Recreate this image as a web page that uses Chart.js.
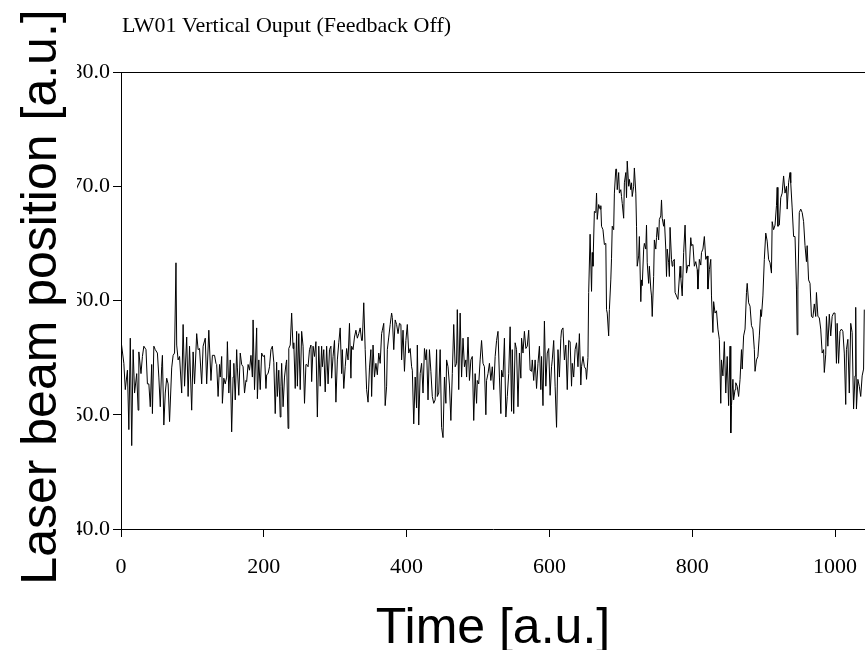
<!DOCTYPE html>
<html>
<head>
<meta charset="utf-8">
<script src="https://cdn.jsdelivr.net/npm/chart.js@4.4.1/dist/chart.umd.min.js"></script>
<style>
    html, body { margin: 0; padding: 0; background: #fff; overflow: hidden; }
    #wrap { width: 865px; height: 650px; position: relative; }
</style>
</head>
<body>
<div id="wrap"><canvas id="chart"></canvas></div>
<script>
const chartTitle = "LW01 Vertical Ouput (Feedback Off)";
const xAxisTitle = "Time [a.u.]";
const yAxisTitle = "Laser beam position [a.u.]";

const xTicks = [0, 200, 400, 600, 800, 1000];
const yTicks = [40, 50, 60, 70, 80];

// time samples
const timeSteps = [
    0, 4, 6, 9, 11, 13, 15, 17, 19, 22, 24, 25, 28, 30, 32, 35, 37, 39, 41, 43,
    44, 46, 48, 51, 53, 55, 57, 58, 60, 62, 64, 66, 68, 71, 73, 75, 77, 78, 80, 82,
    85, 87, 89, 92, 94, 96, 99, 101, 103, 106, 108, 110, 113, 115, 118, 120, 123, 126, 128,
    131, 133, 134, 136, 138, 139, 141, 142, 144, 146, 148, 149, 151, 153, 155, 157, 158, 160, 162, 163,
    165, 167, 169, 171, 173, 175, 176, 178, 180, 182, 184, 185, 187, 190, 191, 193, 195, 197, 199, 201,
    203, 204, 206, 208, 210, 212, 214, 216, 218, 219, 221, 223, 224, 225, 227, 229, 231, 232, 234, 235,
    237, 239, 241, 242, 244, 246, 247, 249, 251, 253, 255, 257, 259,
    260, 262, 264, 266, 267, 269, 271, 273, 275, 277, 279, 281, 282, 284, 286, 288, 290, 292, 294, 295,
    297, 299, 301, 303, 305, 307, 309, 310, 312, 314, 316, 318, 320, 322, 323, 325, 327, 329, 331, 333,
    335, 337, 338, 340, 342, 344, 346, 348, 350, 351, 353, 355, 357, 359, 361, 363, 365, 366, 368, 370,
    372, 373, 375, 377, 379, 380, 382, 384, 386, 388, 390,
    392, 393, 395, 397, 399, 401, 403, 405, 407, 408, 410, 412, 414, 415, 417, 419, 421, 423, 425, 427,
    428, 430, 432, 434, 436, 438, 440, 442, 443, 445, 447, 449, 451, 453, 455, 456, 458, 460, 462, 464,
    466, 468, 470, 471, 473, 475, 477, 479, 481, 483, 484, 486, 488, 490, 492, 494, 496, 498, 499, 501,
    503, 505, 507, 509, 511, 512, 514, 516, 518, 520,
    522, 524, 526, 528, 530, 532, 533, 535, 537, 539, 541, 543, 545, 547, 548, 550, 552, 554, 556, 558,
    560, 561, 563, 565, 567, 569, 571, 573, 575, 576, 578, 580, 582, 584, 586, 588, 589, 591, 593, 595,
    597, 599, 601, 603, 604, 606, 608, 610, 612, 614, 616, 617, 619, 621, 623, 625, 627, 629, 631, 632,
    634, 636, 638, 640, 642, 644, 645, 647, 649,
    651, 652, 654, 655, 657, 659, 660, 661, 663, 665, 666, 667, 669, 671, 672, 673, 675, 677, 679, 680,
    681, 683, 684, 686, 687, 688, 690, 691, 693, 694, 695, 697, 698, 700, 701, 702, 704, 705, 707, 708,
    709, 711, 712, 714, 715, 716, 718, 719, 721, 722, 723, 725, 726, 728, 729, 730, 732, 733, 735, 736,
    737, 739, 740, 742, 743, 744, 746, 747, 749, 750, 751, 753, 754, 756, 757, 758, 760, 761, 763, 764,
    765, 767, 768, 769, 771, 772, 773, 775, 776, 778, 780,
    783, 784, 786, 788, 790, 792, 794, 796, 798, 799, 801, 803, 805, 807, 808, 810, 812, 813, 815, 817,
    819, 821, 822, 824, 826, 827, 829, 830, 832, 834, 836, 838, 840, 841, 843, 845, 847, 849, 851, 853,
    854, 855, 857, 858, 860, 861, 863, 865, 867, 869, 870, 872, 874, 876, 877, 879, 881, 883, 885, 887,
    888, 890, 892, 894, 896, 897, 899, 901, 903, 905, 907, 909, 911,
    912, 914, 916, 918, 919, 920, 922, 924, 926, 928, 930, 932, 933, 935, 937, 938, 940, 942, 944, 946,
    947, 948, 950, 952, 954, 956, 958, 960, 961, 963, 965, 967, 969, 971, 973, 974, 976, 978, 980, 982,
    984, 985, 987, 988, 990, 992, 994, 996, 998, 1000, 1002, 1003, 1005, 1007, 1009, 1011, 1013, 1015, 1016, 1018,
    1020, 1022, 1024, 1026, 1028, 1029, 1030, 1032, 1034, 1036, 1038, 1040, 1041
];

const beamPosition = [
    56.5, 54.5, 52.2, 53.9, 48.7, 56.7, 47.3, 55.7, 51.9, 53.6, 50.4, 55.5, 53.6, 55.1, 56.0, 55.7, 52.7, 52.7, 50.7, 54.4,
    50.1, 56.0, 55.7, 55.4, 53.3, 50.7, 54.2, 55.2, 49.1, 51.9, 53.2, 52.7, 49.4, 54.1, 55.2, 55.4, 63.3, 56.1, 54.8, 55.1,
    51.9, 57.9, 52.5, 56.8, 51.6, 56.0, 50.4, 55.5, 52.7, 57.1, 55.7, 55.8, 52.7, 56.0, 56.7, 52.7, 57.4, 53.0, 55.2,
    55.2, 54.5, 54.4, 51.6, 54.4, 53.3, 55.1, 51.0, 53.2, 52.7, 53.3, 56.4, 51.9, 54.8, 48.5, 53.3, 54.5, 51.3, 55.7, 54.1,
    51.7, 55.4, 54.4, 54.2, 51.9, 53.0, 52.9, 54.4, 53.9, 55.2, 53.3, 58.3, 52.2, 57.6, 51.4, 54.8, 52.2, 55.4, 55.1, 55.2,
    52.3, 53.5, 53.6, 54.2, 55.7, 56.0, 54.6, 50.1, 54.6, 51.6, 53.9, 49.8, 52.5, 54.5, 50.7, 53.3, 54.4, 54.8, 48.8, 55.8,
    56.1, 58.9, 55.8, 56.3, 52.3, 57.3, 52.5, 57.1, 52.2, 57.3, 56.0, 51.0, 54.4,
    54.4, 54.2, 55.7, 56.1, 52.9, 56.0, 55.1, 56.4, 49.8, 56.0, 52.5, 56.0, 54.2, 55.7, 52.0, 56.0, 52.7, 55.7, 56.0, 53.2,
    55.1, 56.5, 51.1, 54.8, 56.3, 57.6, 53.6, 55.7, 52.3, 54.2, 55.8, 54.8, 58.0, 53.2, 56.0, 55.7, 56.8, 57.4, 56.7, 57.1,
    57.6, 56.5, 56.5, 59.8, 55.7, 52.2, 51.1, 54.1, 55.7, 51.6, 56.1, 53.3, 54.5, 53.5, 55.4, 54.5, 57.1, 57.4, 58.0, 50.8,
    52.5, 55.7, 56.8, 57.9, 58.9, 58.5, 55.7, 58.3, 57.9, 57.1, 58.0,
    57.9, 54.8, 57.4, 53.8, 56.5, 57.9, 55.4, 55.8, 54.2, 53.9, 49.2, 53.3, 50.6, 56.1, 49.1, 53.6, 54.5, 51.9, 55.8, 54.8,
    55.7, 51.3, 55.7, 53.8, 51.6, 51.0, 51.3, 55.7, 51.6, 51.9, 55.7, 48.9, 48.0, 53.3, 51.0, 54.8, 54.2, 52.6, 49.5, 53.6,
    57.9, 54.2, 54.5, 59.2, 52.2, 58.9, 53.3, 56.7, 54.2, 54.8, 53.3, 56.8, 53.0, 54.8, 55.1, 49.5, 53.6, 51.0, 53.0, 52.7,
    54.8, 56.5, 54.5, 54.2, 50.0, 53.0, 53.6, 54.5, 53.0, 54.2,
    52.2, 55.1, 56.5, 57.3, 53.3, 50.1, 53.9, 53.3, 56.7, 49.8, 51.6, 53.6, 57.7, 50.3, 55.7, 50.1, 56.3, 55.7, 50.7, 55.4,
    53.2, 56.7, 55.4, 57.3, 55.8, 56.0, 57.4, 53.9, 53.8, 54.8, 53.0, 54.8, 52.3, 54.5, 56.0, 52.2, 55.1, 50.8, 58.2, 52.5,
    55.4, 55.8, 51.7, 54.2, 54.8, 56.5, 52.5, 48.9, 55.7, 53.3, 56.7, 57.4, 57.6, 54.8, 56.1, 52.2, 56.5, 56.4, 52.5, 54.5,
    53.3, 55.7, 56.3, 54.2, 57.1, 52.6, 54.2, 55.1, 54.2,
    54.0, 53.1, 55.0, 60.7, 65.8, 60.8, 64.2, 63.0, 67.8, 67.7, 69.4, 67.1, 68.4, 68.0, 68.3, 66.5, 66.2, 64.9, 65.0, 59.2,
    58.9, 56.9, 59.2, 61.8, 63.7, 66.5, 66.2, 69.4, 71.5, 71.5, 69.7, 71.2, 69.4, 69.7, 69.1, 68.5, 67.2, 70.3, 71.2, 69.0,
    72.2, 70.0, 70.6, 69.7, 70.3, 69.1, 70.0, 71.6, 69.4, 66.5, 63.0, 63.9, 65.6, 59.9, 61.8, 61.3, 64.5, 65.0, 64.5, 66.6,
    63.3, 61.5, 63.0, 61.0, 60.4, 58.6, 62.1, 65.3, 64.5, 65.5, 66.4, 65.3, 67.1, 67.4, 68.8, 67.2, 66.5, 67.1, 64.5, 62.1,
    64.5, 63.3, 62.1, 66.4, 63.6, 63.0, 63.4, 63.6, 60.7, 60.4, 60.1,
    63.0, 62.0, 60.4, 64.2, 66.6, 62.4, 63.1, 63.0, 65.5, 64.8, 64.9, 63.0, 63.4, 62.7, 61.0, 63.6, 63.1, 64.2, 64.5, 65.6,
    63.6, 63.9, 61.0, 62.7, 63.6, 60.4, 57.2, 59.9, 58.9, 59.1, 57.5, 56.6, 51.0, 54.8, 53.4, 56.4, 51.9, 55.1, 50.8, 56.0,
    48.4, 50.8, 53.1, 51.3, 52.2, 52.8, 52.5, 51.6, 53.1, 55.7, 54.0, 56.9, 57.5, 60.7, 61.5, 59.8, 59.5, 57.8, 57.5, 55.7,
    53.8, 54.8, 55.1, 56.9, 59.2, 58.6, 60.4, 63.6, 65.9, 65.2, 63.6, 63.3, 62.4,
    66.9, 66.2, 66.6, 68.3, 69.9, 66.5, 66.6, 69.0, 69.4, 70.9, 69.4, 70.0, 68.0, 70.3, 71.2, 70.3, 68.1, 65.6, 65.6, 61.0,
    57.0, 61.0, 67.7, 68.0, 67.7, 66.9, 64.8, 63.4, 64.8, 61.8, 61.5, 58.6, 58.5, 59.7, 58.6, 60.7, 58.6, 58.5, 57.5, 55.4,
    55.7, 53.7, 55.3, 58.6, 56.0, 58.8, 56.9, 58.6, 58.9, 58.9, 54.5, 58.0, 54.5, 57.3, 57.5, 57.3, 55.4, 50.9, 55.7, 56.6,
    51.9, 58.0, 57.2, 50.5, 53.4, 59.4, 50.5, 53.1, 52.5, 51.6, 53.4, 54.0, 59.2
];

const serif = "'Liberation Serif', 'Times New Roman', serif";
const sans = "'Liberation Sans', Arial, sans-serif";

const points = timeSteps.map((t, i) => ({ x: t, y: beamPosition[i] }));

// top frame line, titles and the white box behind the big y title
const decorations = {
    id: "decorations",
    afterDraw(chart) {
        const ctx = chart.ctx;
        const area = chart.chartArea;

        ctx.save();
        ctx.strokeStyle = "#000";
        ctx.lineWidth = 1;
        ctx.beginPath();
        ctx.moveTo(area.left, area.top + 0.5);
        ctx.lineTo(area.right, area.top + 0.5);
        ctx.stroke();

        ctx.fillStyle = "#fff";
        ctx.fillRect(0, 0, 77, 600);

        ctx.fillStyle = "#000";
        ctx.textAlign = "left";
        ctx.textBaseline = "alphabetic";
        ctx.font = "22px " + serif;
        ctx.fillText(chartTitle, 122, 32);

        ctx.font = "50px " + sans;
        ctx.textAlign = "center";
        ctx.fillText(xAxisTitle, (area.left + area.right) / 2, 643);

        ctx.translate(56, 297);
        ctx.rotate(-Math.PI / 2);
        ctx.fillText(yAxisTitle, 0, 0);
        ctx.restore();
    }
};

new Chart(document.getElementById("chart"), {
    type: "line",

    data: {
        datasets: [
            {
                data: points,
                borderColor: "#000",
                borderWidth: 1,
                pointRadius: 0,
                tension: 0,
                fill: false
            }
        ]
    },

    options: {
        responsive: true,
        maintainAspectRatio: false,
        animation: false,
        layout: {
            padding: { top: 72, left: 0, right: 0, bottom: 0 }
        },
        plugins: {
            legend: { display: false },
            title: { display: false },
            tooltip: { enabled: false }
        },
        scales: {
            x: {
                type: "linear",
                min: 0,
                max: 1042,
                afterBuildTicks: (scale) => {
                    scale.ticks = xTicks.map((v) => ({ value: v }));
                },
                afterFit: (scale) => {
                    scale.height = 121;
                    scale.paddingLeft = 0;
                    scale.paddingRight = 0;
                },
                ticks: {
                    color: "#000",
                    font: { family: serif, size: 22 },
                    padding: 17,
                    maxRotation: 0,
                    autoSkip: false,
                    callback: (v) => String(v)
                },
                grid: {
                    drawOnChartArea: false,
                    drawTicks: true,
                    tickLength: 8,
                    color: "#000"
                },
                border: { color: "#000", width: 1 }
            },

            y: {
                min: 40,
                max: 80,
                afterBuildTicks: (scale) => {
                    scale.ticks = yTicks.map((v) => ({ value: v }));
                },
                afterFit: (scale) => {
                    scale.width = 121;
                },
                ticks: {
                    color: "#000",
                    font: { family: serif, size: 22 },
                    padding: 3,
                    callback: (v) => v.toFixed(1)
                },
                grid: {
                    drawOnChartArea: false,
                    drawTicks: true,
                    tickLength: 8,
                    color: "#000"
                },
                border: { color: "#000", width: 1 }
            }
        }
    },

    plugins: [decorations]
});
</script>
</body>
</html>
